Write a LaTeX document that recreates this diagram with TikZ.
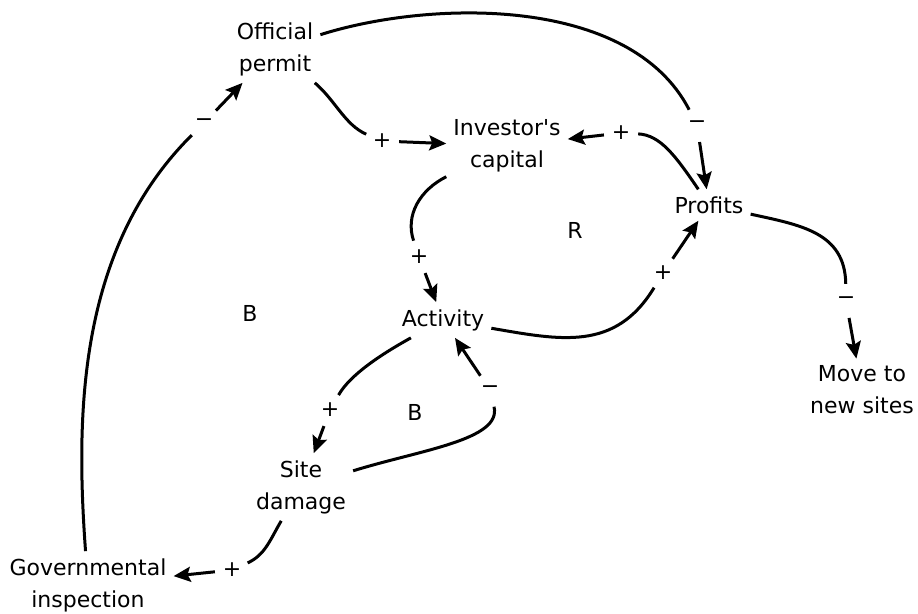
\documentclass[tikz,border=0pt]{standalone}
\usepackage{fontspec}
\setmainfont{DejaVu Sans}
\usetikzlibrary{arrows.meta}

\begin{document}
\begin{tikzpicture}[x=1pt,y=-1pt,font=\fontsize{22}{32}\selectfont,
  var/.style={align=center,inner sep=7pt},
  pol/.style={circle,inner sep=0pt,minimum size=34pt},
  link/.style={line width=3pt},
  arr/.style={line width=3pt,-{Stealth[length=17pt,width=15pt,inset=3pt]}}]
\useasboundingbox (0,0) rectangle (918,613);
% variables
\node[var] (permit) at (275,49) {Official\\permit};
\node[var] (capital) at (507,146) {Investor\textquotesingle s\\capital};
\node[var] (profits) at (709,205) {Profits};
\node[var] (activity) at (443,320) {Activity};
\node[var] (site) at (301,487) {Site\\damage};
\node[var] (move) at (862,390) {Move to\\new sites};
\node[var] (gov) at (88,585) {Governmental\\inspection};
% loop labels
\node (r1) at (575,230) {R};
\node (b1) at (250,313) {B};
\node (b2) at (415,412) {B};
% polarities
\node[pol] (gm) at (204,123) {−};
\node[pol] (pp) at (382,141) {+};
\node[pol] (pm) at (697,125) {−};
\node[pol] (qp) at (621,133) {+};
\node[pol] (cp) at (419,257) {+};
\node[pol] (ap) at (663,273) {+};
\node[pol] (mm) at (846,301) {−};
\node[pol] (sm) at (490,390) {−};
\node[pol] (sp) at (330,410) {+};
\node[pol] (ip) at (232,570) {+};
% links
\draw[link] (gov) .. controls (76,420) and (76,250) .. (gm);
\draw[arr] (gm) -- (permit);
\draw[link] (permit) .. controls (335,100) and (345,125) .. (pp);
\draw[arr] (pp) -- (capital);
\draw[link] (permit) .. controls (430,0) and (630,-5) .. (pm);
\draw[arr] (pm) -- (profits);
\draw[link] (profits) .. controls (675,155) and (660,135) .. (qp);
\draw[arr] (qp) -- (capital);
\draw[link] (capital) .. controls (420,190) and (405,215) .. (cp);
\draw[arr] (cp) -- (activity);
\draw[link] (activity) .. controls (560,340) and (615,352) .. (ap);
\draw[arr] (ap) -- (profits);
\draw[link] (profits) .. controls (800,225) and (845,232) .. (mm);
\draw[arr] (mm) -- (move);
\draw[link] (site) .. controls (420,450) and (502,440) .. (sm);
\draw[arr] (sm) -- (activity);
\draw[link] (activity) .. controls (380,355) and (350,375) .. (sp);
\draw[arr] (sp) -- (site);
\draw[link] (site) .. controls (270,540) and (265,555) .. (ip);
\draw[arr] (ip) -- (gov);
\end{tikzpicture}
\end{document}
